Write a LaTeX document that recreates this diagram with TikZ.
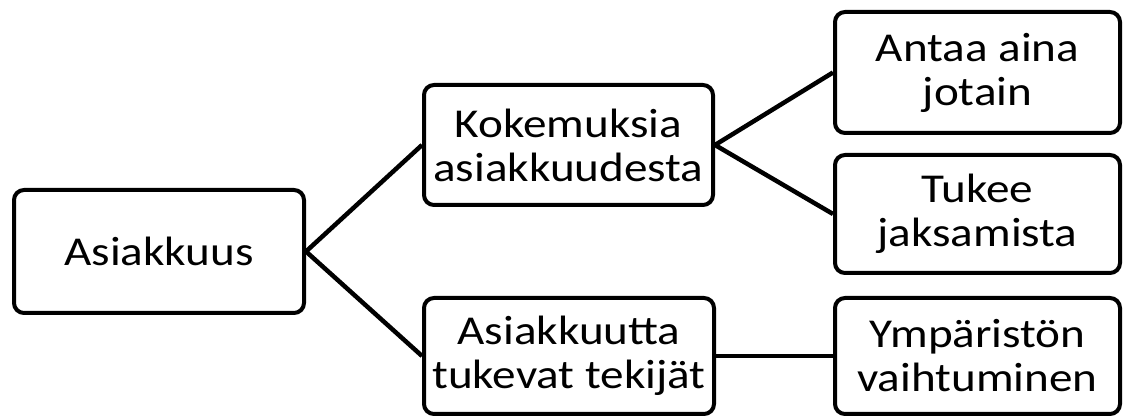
\documentclass[tikz,border=0pt]{standalone}
\usepackage{fontspec}
\setmainfont[FakeStretch=1.15]{Carlito}
\begin{document}
\begin{tikzpicture}[x=1pt,y=1pt,
  box/.style={draw=black, line width=4pt, rounded corners=10pt, align=center,
    inner sep=0pt, font=\fontsize{41}{44}\selectfont, text=black},
  conn/.style={draw=black, line width=4.5pt}]
\useasboundingbox (0,0) rectangle (1125,417);
\node[box, minimum width=290pt, minimum height=123pt] (A) at (159,165.5) {Asiakkuus};
\node[box, minimum width=289pt, minimum height=120pt] (K) at (568.5,272) {Kokemuksia\\asiakkuudesta};
\node[box, minimum width=290pt, minimum height=116pt] (T) at (569,61) {Asiakkuutta\\tukevat tekijät};
\node[box, minimum width=285pt, minimum height=121pt] (AA) at (977.5,344.5) {Antaa aina\\jotain};
\node[box, minimum width=285pt, minimum height=118pt] (TU) at (977.5,203) {Tukee\\jaksamista};
\node[box, minimum width=285pt, minimum height=116pt] (Y) at (977.5,61) {Ympäristön\\vaihtuminen};
\draw[conn] (A.east) -- (K.west);
\draw[conn] (A.east) -- (T.west);
\draw[conn] (K.east) -- (AA.west);
\draw[conn] (K.east) -- (TU.west);
\draw[conn] (T.east) -- (Y.west);
\end{tikzpicture}
\end{document}
